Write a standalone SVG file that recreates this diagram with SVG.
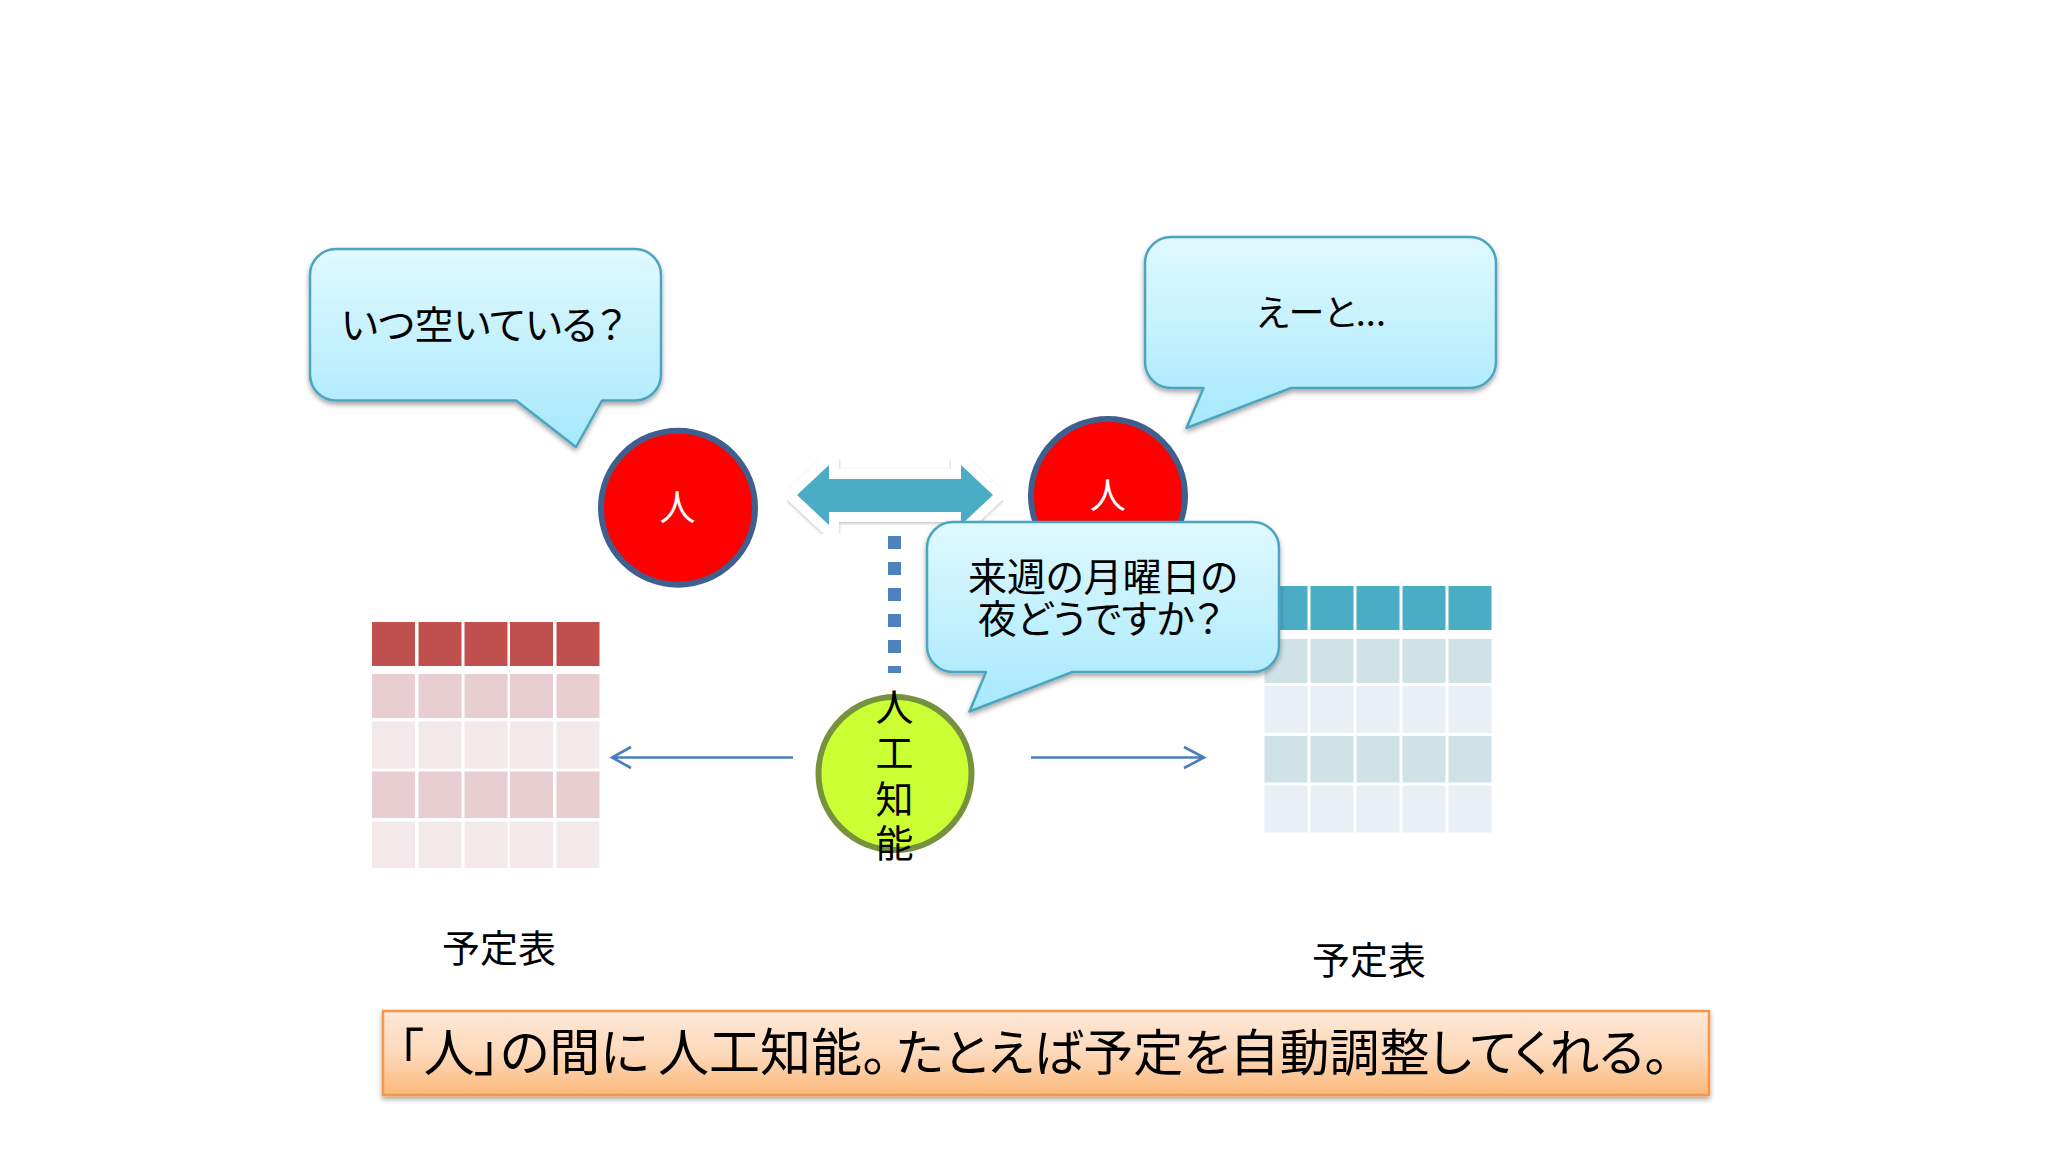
<svg xmlns="http://www.w3.org/2000/svg" width="2048" height="1152" viewBox="0 0 2048 1152">
<style>
text{font-family:"Noto Sans CJK JP","Noto Sans",sans-serif;fill:#000;text-anchor:middle;font-feature-settings:"palt"}
.bub{fill:url(#bubG);stroke:#4ba5c0;stroke-width:2.5;stroke-linejoin:round;filter:url(#sh)}
.t{font-size:39px}
.e{font-size:36px}
.l{font-size:38px}
.per{stroke-width:6;stroke:#3f5f8f;fill:#ff0000}
.pt{font-size:36px;fill:#fff}
.conn{fill:none;stroke:#4a7ebb;stroke-width:2.6}
.rh{fill:#bf504d}.r1{fill:#e8ced1}.r2{fill:#f3e9ea}
.bh{fill:#4bacc6}.b1{fill:#cfe2e6}.b2{fill:#e9eff5}
</style>
<defs>
<linearGradient id="bubG" x1="0" y1="0" x2="0" y2="1"><stop offset="0" stop-color="#e0f9ff"/><stop offset="1" stop-color="#a6e8fc"/></linearGradient>
<linearGradient id="orG" x1="0" y1="0" x2="0" y2="1"><stop offset="0" stop-color="#fee8d8"/><stop offset="0.5" stop-color="#fdd9ba"/><stop offset="1" stop-color="#fbb87a"/></linearGradient>
<filter id="sh" x="-5%" y="-5%" width="110%" height="115%"><feDropShadow dx="0" dy="3" stdDeviation="2.5" flood-color="#000" flood-opacity="0.35"/></filter>
<filter id="shW" x="-5%" y="-10%" width="110%" height="125%"><feDropShadow dx="0" dy="1.5" stdDeviation="1.5" flood-color="#000" flood-opacity="0.25"/></filter>
</defs>
<rect width="2048" height="1152" fill="#fff"/>

<g id="table-left">
<rect class="rh" x="372" y="622" width="43" height="44"/><rect class="rh" x="418.5" y="622" width="43" height="44"/><rect class="rh" x="464.5" y="622" width="43" height="44"/><rect class="rh" x="510" y="622" width="43" height="44"/><rect class="rh" x="556.5" y="622" width="43" height="44"/>
<rect class="r1" x="372" y="674" width="43" height="44"/><rect class="r1" x="418.5" y="674" width="43" height="44"/><rect class="r1" x="464.5" y="674" width="43" height="44"/><rect class="r1" x="510" y="674" width="43" height="44"/><rect class="r1" x="556.5" y="674" width="43" height="44"/>
<rect class="r2" x="372" y="721.5" width="43" height="47"/><rect class="r2" x="418.5" y="721.5" width="43" height="47"/><rect class="r2" x="464.5" y="721.5" width="43" height="47"/><rect class="r2" x="510" y="721.5" width="43" height="47"/><rect class="r2" x="556.5" y="721.5" width="43" height="47"/>
<rect class="r1" x="372" y="771.5" width="43" height="46.5"/><rect class="r1" x="418.5" y="771.5" width="43" height="46.5"/><rect class="r1" x="464.5" y="771.5" width="43" height="46.5"/><rect class="r1" x="510" y="771.5" width="43" height="46.5"/><rect class="r1" x="556.5" y="771.5" width="43" height="46.5"/>
<rect class="r2" x="372" y="821.5" width="43" height="46.5"/><rect class="r2" x="418.5" y="821.5" width="43" height="46.5"/><rect class="r2" x="464.5" y="821.5" width="43" height="46.5"/><rect class="r2" x="510" y="821.5" width="43" height="46.5"/><rect class="r2" x="556.5" y="821.5" width="43" height="46.5"/>
</g>

<g id="table-right">
<rect class="bh" x="1264.5" y="586" width="43" height="44"/><rect class="bh" x="1310.5" y="586" width="43" height="44"/><rect class="bh" x="1356.5" y="586" width="43" height="44"/><rect class="bh" x="1402.5" y="586" width="43" height="44"/><rect class="bh" x="1448.5" y="586" width="43" height="44"/>
<rect class="b1" x="1264.5" y="639" width="43" height="44"/><rect class="b1" x="1310.5" y="639" width="43" height="44"/><rect class="b1" x="1356.5" y="639" width="43" height="44"/><rect class="b1" x="1402.5" y="639" width="43" height="44"/><rect class="b1" x="1448.5" y="639" width="43" height="44"/>
<rect class="b2" x="1264.5" y="686" width="43" height="47"/><rect class="b2" x="1310.5" y="686" width="43" height="47"/><rect class="b2" x="1356.5" y="686" width="43" height="47"/><rect class="b2" x="1402.5" y="686" width="43" height="47"/><rect class="b2" x="1448.5" y="686" width="43" height="47"/>
<rect class="b1" x="1264.5" y="736" width="43" height="46.5"/><rect class="b1" x="1310.5" y="736" width="43" height="46.5"/><rect class="b1" x="1356.5" y="736" width="43" height="46.5"/><rect class="b1" x="1402.5" y="736" width="43" height="46.5"/><rect class="b1" x="1448.5" y="736" width="43" height="46.5"/>
<rect class="b2" x="1264.5" y="785.5" width="43" height="47"/><rect class="b2" x="1310.5" y="785.5" width="43" height="47"/><rect class="b2" x="1356.5" y="785.5" width="43" height="47"/><rect class="b2" x="1402.5" y="785.5" width="43" height="47"/><rect class="b2" x="1448.5" y="785.5" width="43" height="47"/>
</g>

<g id="connectors">
<path id="double-arrow" d="M797,495 L829,465 V479 H961 V465 L993,495 L961,525 V512 H829 V525 Z" fill="#4bacc6" stroke="#fff" stroke-width="20" paint-order="stroke" filter="url(#shW)"/>
<line x1="894.500" y1="536" x2="894.500" y2="673" stroke="#4f81bd" stroke-width="13" stroke-dasharray="13 13"/>
<path class="conn" d="M793,757.5 H612 M631,747 L612,757.5 L631,768"/>
<path class="conn" d="M1031,757.5 H1204 M1184,747 L1204,757.5 L1184,768"/>
</g>

<g id="person-left"><circle class="per" cx="678" cy="507.7" r="77"/><text class="pt" x="677.5" y="521">人</text></g>
<g id="person-right"><circle class="per" cx="1108" cy="496" r="77"/><text class="pt" x="1108" y="509">人</text></g>

<g id="ai"><circle cx="895" cy="773.5" r="76.500" fill="#ccff33" stroke="#76923c" stroke-width="6"/>
<text font-size="38"><tspan x="894.5" y="721">人</tspan><tspan x="894.5" y="767">工</tspan><tspan x="894.5" y="813">知</tspan><tspan x="894.5" y="857">能</tspan></text></g>

<g id="bubble-left"><path class="bub" d="M336,249 H635 A26,26 0 0 1 661,275 V374.500 A26,26 0 0 1 635,400.500 H602 L576,447 L516,400.500 H336 A26,26 0 0 1 310,374.500 V275 A26,26 0 0 1 336,249 Z"/>
<text class="t" x="483" y="339">いつ空いている？</text></g>

<g id="bubble-right"><path class="bub" d="M1171,237 H1470 A26,26 0 0 1 1496,263 V362 A26,26 0 0 1 1470,388 H1291 L1186.500,428 L1203.500,388 H1171 A26,26 0 0 1 1145,362 V263 A26,26 0 0 1 1171,237 Z"/>
<text class="e" x="1321" y="326">えーと...</text></g>

<g id="bubble-center"><path class="bub" d="M953,522 H1253 A26,26 0 0 1 1279,548 V646 A26,26 0 0 1 1253,672 H1072.500 L969.500,711.500 L986,672 H953 A26,26 0 0 1 927,646 V548 A26,26 0 0 1 953,522 Z"/>
<text class="t" x="1103" y="591">来週の月曜日の</text><text class="t" x="1100" y="633">夜どうですか？</text></g>

<g id="label-left"><text class="l" x="499" y="962">予定表</text></g>
<g id="label-right"><text class="l" x="1369" y="974">予定表</text></g>

<g id="caption"><rect x="383" y="1011" width="1326" height="84" fill="url(#orG)" stroke="#f79646" stroke-width="2.5" filter="url(#sh)"/>
<text y="1071" font-size="51" style="text-anchor:start"><tspan x="398">「人」の間に</tspan><tspan x="658">人工知能。</tspan><tspan x="896" font-size="50">たとえば予定を自動調整してくれる。</tspan></text></g>
</svg>
